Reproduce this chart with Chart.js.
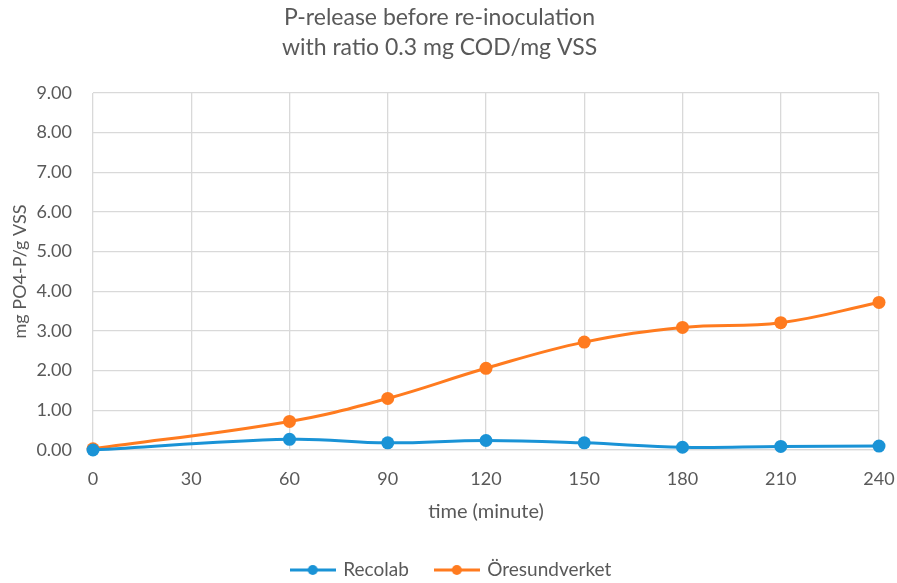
<!DOCTYPE html>
<html>
<head>
<meta charset="utf-8">
<script src="https://cdn.jsdelivr.net/npm/chart.js@4/dist/chart.umd.min.js"></script>
<style>
  html, body { margin: 0; padding: 0; background: #ffffff; }
  #wrap { width: 897px; height: 583px; }
</style>
</head>
<body>
<div id="wrap"><canvas id="c" width="897" height="583"></canvas></div>
<script>
// Sampling times (minutes) and measured P-release (mg PO4-P / g VSS)
const times = [0, 60, 90, 120, 150, 180, 210, 240];
const recolab = [0.00, 0.27, 0.18, 0.24, 0.18, 0.07, 0.09, 0.10];
const oresundverket = [0.03, 0.72, 1.30, 2.06, 2.72, 3.09, 3.21, 3.72];
const seriesNames = ['Recolab', 'Öresundverket'];
const titleLines = ['P-release before re-inoculation', 'with ratio 0.3 mg COD/mg VSS'];
const xTitle = 'time (minute)';
const yTitle = 'mg PO4-P/g VSS';

const BLUE = '#1a93d6';
const ORANGE = '#ff7b1f';
const TEXT = '#595959';
const GRID = '#d9d9d9';
const FONT = 'Lato, "Open Sans", sans-serif';

// Legend swatch: short line with a round marker in the middle
function swatch(color) {
  const cv = document.createElement('canvas');
  cv.width = 46; cv.height = 14;
  const g = cv.getContext('2d');
  g.strokeStyle = color; g.lineWidth = 3;
  g.beginPath(); g.moveTo(0, 7); g.lineTo(46, 7); g.stroke();
  g.fillStyle = color;
  g.beginPath(); g.arc(23, 7, 5, 0, Math.PI * 2); g.fill();
  return cv;
}

function toPoints(ys) { return times.map((t, i) => ({ x: t, y: ys[i] })); }

const colors = [BLUE, ORANGE];
const datasets = [recolab, oresundverket].map((ys, i) => ({
  label: seriesNames[i],
  data: toPoints(ys),
  borderColor: colors[i],
  backgroundColor: colors[i],
  borderWidth: 3,
  pointRadius: 6.5,
  pointHoverRadius: 6.5,
  pointBorderWidth: 0,
  tension: 0.4,
  clip: false,
  fill: false
}));

// Nudge the bottom legend slightly to the right
const legendShift = {
  id: 'legendShift',
  afterLayout(chart) {
    if (chart.legend) { chart.legend.left += 12; chart.legend.right += 12; }
  }
};

new Chart(document.getElementById('c'), {
  type: 'line',
  data: { datasets },
  plugins: [legendShift],
  options: {
    responsive: false,
    animation: false,
    layout: { padding: { left: 0, right: 18, top: 0, bottom: -6.5 } },
    plugins: {
      title: {
        display: true,
        text: titleLines,
        color: TEXT,
        font: { family: FONT, size: 23, weight: 'normal', lineHeight: 1.3 },
        padding: { top: 3, bottom: 30.2 }
      },
      legend: {
        position: 'bottom',
        labels: {
          color: TEXT,
          font: { family: FONT, size: 19 },
          usePointStyle: true,
          pointStyleWidth: 42,
          padding: 27,
          generateLabels(chart) {
            return chart.data.datasets.map((ds, i) => ({
              text: ds.label,
              fontColor: TEXT,
              pointStyle: swatch(ds.borderColor),
              strokeStyle: ds.borderColor,
              fillStyle: ds.borderColor,
              lineWidth: 0,
              datasetIndex: i,
              hidden: false
            }));
          }
        }
      },
      tooltip: { enabled: false }
    },
    scales: {
      x: {
        type: 'linear',
        min: 0,
        max: 240,
        ticks: { stepSize: 30, color: TEXT, font: { family: FONT, size: 18 }, padding: 18 },
        grid: { color: GRID, lineWidth: 1.3, drawTicks: false },
        border: { color: GRID, width: 1.3 },
        title: {
          display: true,
          text: xTitle,
          color: TEXT,
          font: { family: FONT, size: 20 },
          padding: { top: 0, bottom: 9.5 }
        },
        afterFit(scale) { scale.height = 83.5; scale.paddingLeft = 0; scale.paddingRight = 0; }
      },
      y: {
        min: 0,
        max: 9,
        ticks: {
          stepSize: 1,
          color: TEXT,
          font: { family: FONT, size: 18 },
          padding: 21,
          callback: v => Number(v).toFixed(2)
        },
        grid: { color: GRID, lineWidth: 1.3, drawTicks: false },
        border: { display: false },
        title: {
          display: true,
          text: yTitle,
          color: TEXT,
          font: { family: FONT, size: 18 },
          padding: { top: 9, bottom: 0 }
        },
        afterFit(scale) { scale.width = 93; }
      }
    }
  }
});
</script>
</body>
</html>
